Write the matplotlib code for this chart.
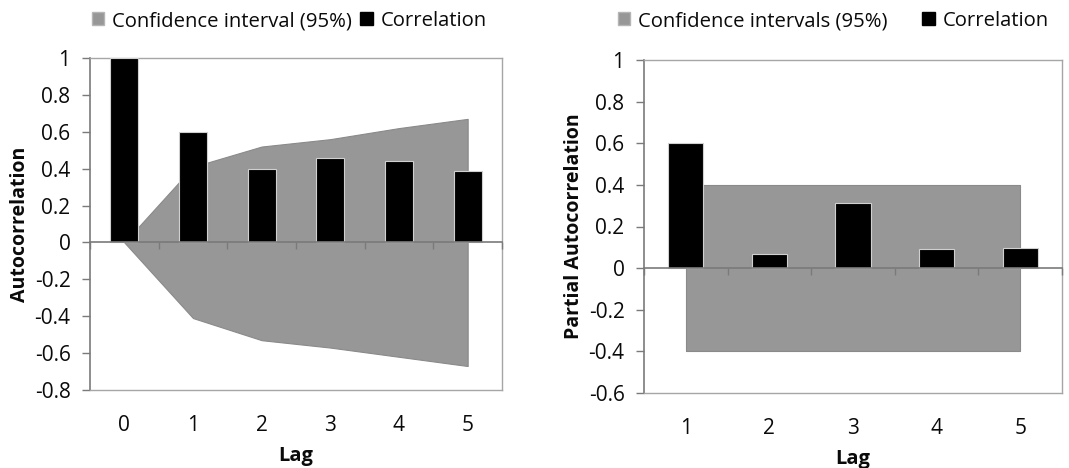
import matplotlib
matplotlib.use("Agg")
import matplotlib.pyplot as plt
from matplotlib.patches import Patch
from matplotlib.ticker import FixedLocator, FuncFormatter

plt.rcParams['font.family'] = ['Open Sans', 'DejaVu Sans']

# ---- data ----
acf_lags = ['0', '1', '2', '3', '4', '5']
acf_values = [1.0, 0.60, 0.40, 0.46, 0.44, 0.385]
acf_ci_upper = [0.0, 0.41, 0.52, 0.56, 0.62, 0.67]
acf_ci_lower = [0.0, -0.41, -0.53, -0.57, -0.62, -0.67]

pacf_lags = ['1', '2', '3', '4', '5']
pacf_values = [0.60, 0.07, 0.315, 0.09, 0.095]
pacf_ci_upper = [0.40, 0.40, 0.40, 0.40, 0.40]
pacf_ci_lower = [-0.40, -0.40, -0.40, -0.40, -0.40]

acf_yticks = [-0.8, -0.6, -0.4, -0.2, 0, 0.2, 0.4, 0.6, 0.8, 1]
pacf_yticks = [-0.6, -0.4, -0.2, 0, 0.2, 0.4, 0.6, 0.8, 1]

GREY = '#979797'
GREY_EDGE = '#8a8a8a'
FRAME = '#a6a6a6'
AXIS = '#7a7a7a'
TEXT = '#0a0a0a'

W, H = 1069, 468
fig = plt.figure(figsize=(W / 100, H / 100), dpi=100)


def fmt(v, pos=None):
    return f"{v:g}"


def make_panel(rect, lags, values, lo, hi, yticks, ylabel, bar_w):
    ax = fig.add_axes(rect)
    x = list(range(len(lags)))
    ax.fill_between(x, lo, hi, facecolor=GREY, edgecolor=GREY_EDGE, linewidth=0.8, zorder=1)
    ax.bar(x, values, width=bar_w, color='black', edgecolor='#d0d0d0', linewidth=0.8, zorder=3)
    ymin, ymax = yticks[0], yticks[-1]
    ax.set_ylim(ymin, ymax)
    ax.set_xlim(-0.5, len(lags) - 0.5)
    ax.set_yticks(yticks)
    ax.yaxis.set_major_formatter(FuncFormatter(fmt))
    ax.tick_params(axis='y', direction='out', length=6, width=1, color=AXIS,
                   labelsize=15, labelcolor=TEXT, pad=8)
    ax.set_xticks(x)
    ax.set_xticklabels(lags)
    ax.tick_params(axis='x', length=0, labelsize=15, labelcolor=TEXT, pad=18)
    for s in ['top', 'right', 'bottom']:
        ax.spines[s].set_color(FRAME)
        ax.spines[s].set_linewidth(1)
    ax.spines['left'].set_color(AXIS)
    ax.spines['left'].set_linewidth(1.2)
    # category axis crossing at y = 0
    frac = (0 - ymin) / (ymax - ymin)
    sec = ax.secondary_xaxis(frac)
    sec.xaxis.set_major_locator(FixedLocator([i - 0.5 for i in range(len(lags) + 1)]))
    sec.tick_params(axis='x', direction='out', length=5, width=1, color=AXIS,
                    labelbottom=False, labeltop=False, bottom=True, top=False)
    sec.spines['bottom'].set_color(AXIS)
    sec.spines['bottom'].set_linewidth(1.2)
    sec.spines['top'].set_visible(False)
    sec.set_zorder(4)
    ax.set_xlabel('Lag', fontsize=14.5, fontweight='bold', color=TEXT, labelpad=7)
    ax.set_ylabel(ylabel, fontsize=14, fontweight='bold', color=TEXT, labelpad=3)
    return ax


ax1 = make_panel([90 / W, (H - 390) / H, 412 / W, 332 / H], acf_lags, acf_values,
                 acf_ci_lower, acf_ci_upper, acf_yticks, 'Autocorrelation', 0.41)
ax2 = make_panel([644 / W, (H - 393) / H, 418 / W, 333 / H], pacf_lags, pacf_values,
                 pacf_ci_lower, pacf_ci_upper, pacf_yticks, 'Partial Autocorrelation', 0.42)

leg_kw = dict(frameon=False, ncol=2, handlelength=0.6, handleheight=0.6,
              handletextpad=0.4, columnspacing=0.4, borderpad=0, fontsize=14.6,
              labelcolor=TEXT)
fig.legend([Patch(facecolor=GREY, edgecolor='#b5b5b5'), Patch(facecolor='black', edgecolor='black')],
           ['Confidence interval (95%)', 'Correlation'], loc='center left',
           bbox_to_anchor=(82 / W, 1 - 21 / H), **leg_kw)
fig.legend([Patch(facecolor=GREY, edgecolor='#b5b5b5'), Patch(facecolor='black', edgecolor='black')],
           ['Confidence intervals (95%)', 'Correlation'], loc='center left',
           bbox_to_anchor=(608 / W, 1 - 21 / H), **dict(leg_kw, columnspacing=1.7))

fig.savefig('out.png', dpi=100)
